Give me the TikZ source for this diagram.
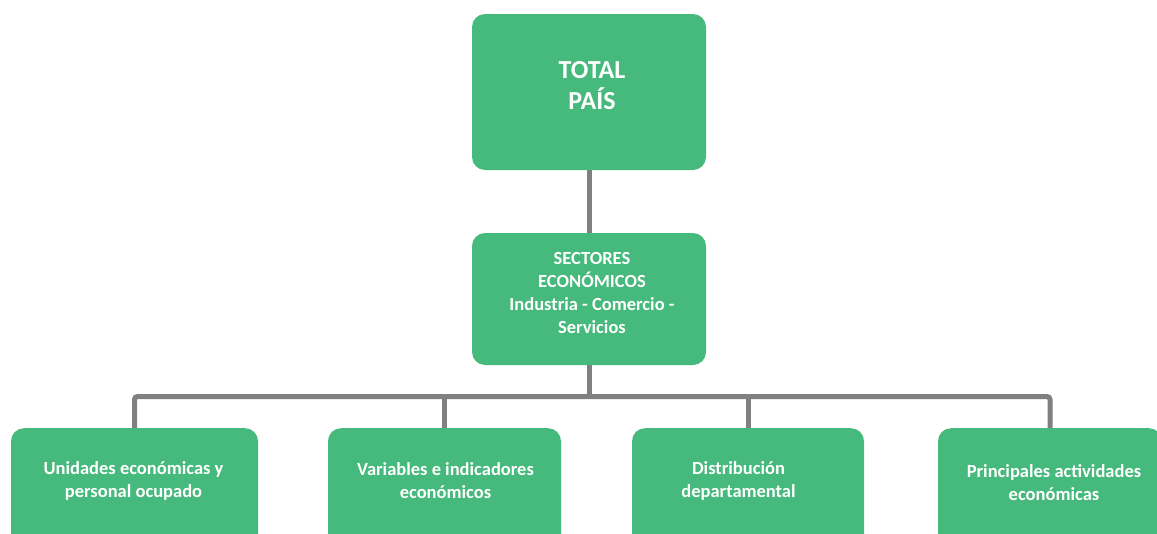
\documentclass[tikz,border=0pt]{standalone}
\usepackage{fontspec}
\setmainfont{Carlito}
\definecolor{boxgreen}{RGB}{70,185,124}
\definecolor{linegray}{RGB}{128,128,131}
\begin{document}
\begin{tikzpicture}[x=1pt,y=-1pt,
  gbox/.style={draw=none,fill=boxgreen,rounded corners=13pt,inner sep=0pt,minimum width=234pt},
  conn/.style={draw=linegray,line width=5pt},
  bigtext/.style={text=white,font=\bfseries\fontsize{26}{31}\selectfont,align=center,inner sep=0pt},
  midtext/.style={text=white,font=\bfseries\fontsize{18.5}{22.8}\selectfont,align=center,inner sep=0pt},
  lowtext/.style={text=white,font=\bfseries\fontsize{18.5}{23}\selectfont,align=center,inner sep=0pt}]
\useasboundingbox (0,0) rectangle (1157,533);
\clip (0,0) rectangle (1157,533);
% boxes
\node[gbox,minimum height=156pt] (top) at (589,92) {};
\node[gbox,minimum height=132pt] (mid) at (589,299) {};
\node[gbox,anchor=north,minimum width=247pt,minimum height=140pt] (b1) at (134.5,428) {};
\node[gbox,anchor=north,minimum width=233pt,minimum height=140pt] (b2) at (444.5,428) {};
\node[gbox,anchor=north,minimum width=232pt,minimum height=140pt] (b3) at (748,428) {};
\node[gbox,anchor=north,minimum width=224pt,minimum height=140pt] (b4) at (1050,428) {};
% connectors
\coordinate (bus) at (589,396.5);
\draw[conn] (top.south) -- (mid.north);
\draw[conn] (mid.south) -- (bus);
\draw[conn,rounded corners=3pt] (b1.north) |- (bus) -| (b4.north);
\draw[conn] (b2.north) -- (b2.north |- bus);
\draw[conn] (b3.north) -- (b3.north |- bus);
% texts
\node[bigtext] (t0) at (592,86) {TOTAL\\PAÍS};
\node[midtext] (t1) at (592,293) {SECTORES\\ECONÓMICOS\\Industria - Comercio -\\Servicios};
\node[lowtext] (t2) at (133.5,480.5) {Unidades económicas y\\personal ocupado};
\node[lowtext] (t3) at (445.5,480.5) {Variables e indicadores\\económicos};
\node[lowtext] (t4) at (738.5,480.5) {Distribución\\departamental};
\node[lowtext] (t5) at (1054,483) {Principales actividades\\económicas};
\end{tikzpicture}
\end{document}
